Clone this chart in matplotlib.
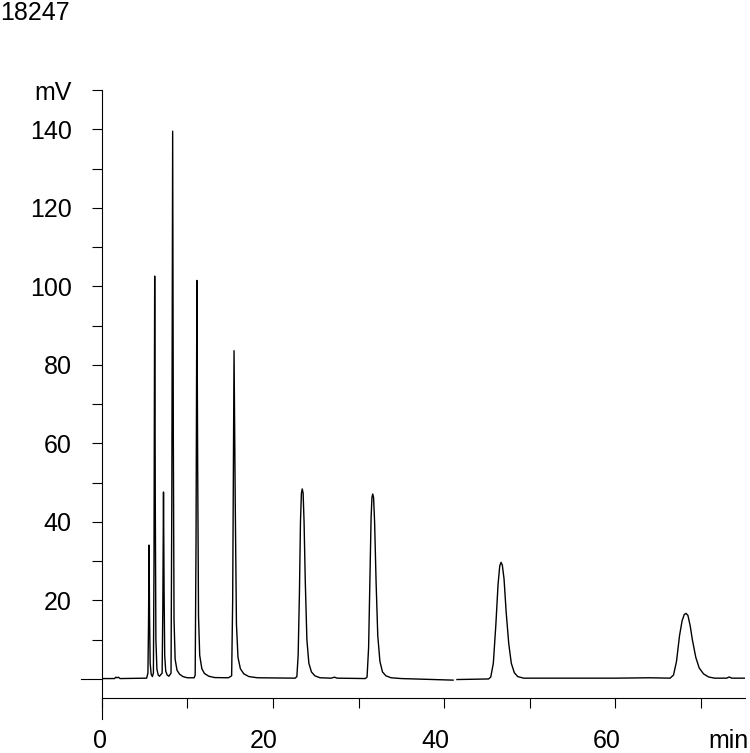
import numpy as np
import matplotlib
matplotlib.use("Agg")
import matplotlib.pyplot as plt

# -----------------------------
# 1. Chromatogram trace
# -----------------------------
# retention time (min) and detector signal (mV); nan marks the break in the trace
time_min = [
    0.0, 1.5, 1.65, 1.8, 1.95, 2.15, 5.25,
    5.40, 5.47, 5.53, 5.59, 5.66, 5.78, 5.92,
    6.04, 6.11, 6.19, 6.26, 6.33, 6.45, 6.60, 6.75,
    7.06, 7.14, 7.22, 7.29, 7.36, 7.48, 7.65, 7.85,
    8.10, 8.19, 8.29, 8.37, 8.45, 8.58, 8.80, 9.10, 9.50, 10.0, 10.8,
    10.92, 11.02, 11.12, 11.21, 11.31, 11.45, 11.7, 12.0, 12.5, 13.2, 14.8,
    15.18, 15.30, 15.46, 15.60, 15.74, 15.92, 16.2, 16.6, 17.2, 18.2, 22.6,
    22.80, 22.95, 23.10, 23.22, 23.33, 23.43, 23.53, 23.64, 23.78, 23.97, 24.2, 24.5, 24.9, 25.5,
    26.8, 27.2, 27.5, 30.8,
    31.0, 31.18, 31.35, 31.47, 31.57, 31.66, 31.76, 31.88, 32.05, 32.25, 32.5, 32.8, 33.2, 33.8,
    35.0, 41.05, 41.3, 41.5, 45.2,
    45.45, 45.75, 46.05, 46.3, 46.5, 46.65, 46.8, 47.0, 47.25, 47.55, 47.85, 48.2, 48.6, 49.3,
    60.0, 64.0, 66.4,
    66.8, 67.15, 67.5, 67.8, 68.05, 68.26, 68.48, 68.75, 69.0, 69.4, 69.8, 70.3, 70.9, 71.6,
    73.0, 73.3, 73.6, 75.1,
]
signal_mv = [
    0.1, 0.1, 0.45, 0.3, 0.45, 0.1, 0.2,
    1.5, 14, 34.1, 16, 4, 1.2, 0.6,
    1.5, 30, 102.6, 45, 10, 2.5, 1.0, 0.7,
    1.5, 18, 47.6, 22, 6, 2, 1.0, 0.7,
    1.5, 45, 139.5, 60, 15, 5, 2.2, 1.2, 0.6, 0.3, 0.3,
    1.0, 35, 101.5, 55, 16, 6, 2.6, 1.4, 0.7, 0.35, 0.3,
    0.8, 20, 83.6, 45, 14, 5.5, 2.6, 1.3, 0.6, 0.3, 0.2,
    0.6, 6, 22, 40, 47.3, 48.4, 47.3, 40, 25, 10, 4, 1.8, 0.8, 0.3,
    0.2, 0.45, 0.2, 0.1,
    0.5, 8, 28, 41, 46.2, 47.1, 46.2, 40, 25, 11, 4.5, 1.8, 0.8, 0.3,
    0.1, -0.3, np.nan, -0.15, 0.0,
    0.5, 4, 14, 24, 28.8, 29.7, 29.0, 25.5, 17, 9, 4, 1.6, 0.6, 0.2,
    0.2, 0.3, 0.2,
    1.0, 4.5, 11, 14.8, 16.4, 16.7, 16.2, 13.5, 10, 5.5, 2.8, 1.3, 0.5, 0.2,
    0.2, 0.5, 0.2, 0.2,
]

x_ticks = [0, 10, 20, 30, 40, 50, 60, 70]
x_labels = [0, 20, 40, 60]
y_major = [20, 40, 60, 80, 100, 120, 140]
y_minor = [10, 30, 50, 70, 90, 110, 130]

run_id = "18247"

# -----------------------------
# 2. Figure / axes
# -----------------------------
plt.rcParams['font.family'] = ['Liberation Sans', 'DejaVu Sans']
fig = plt.figure(figsize=(7.5, 7.53), dpi=100)
W, H = 750, 753
x0, x1 = 101.7, 745.0     # px of 0 min and end of axis
ytop, ybot = 90.0, 719.0   # px of 150 mV and bottom of y axis
ax = fig.add_axes([x0 / W, (H - ybot) / H, (x1 - x0) / W, (ybot - ytop) / H])
ax.set_xlim(0, 75.15)
ax.set_ylim(-10.2, 150)
ax.patch.set_alpha(0)

ax.plot(time_min, signal_mv, color='black', lw=1.0)

# spines
for s in ['top', 'right']:
    ax.spines[s].set_visible(False)
ax.spines['left'].set_position(('data', 0))
ax.spines['bottom'].set_position(('data', -4.8))
ax.spines['left'].set_linewidth(0.8)
ax.spines['bottom'].set_linewidth(0.8)

# y ticks
ax.set_yticks(y_major + [150])
ax.set_yticklabels([str(v) for v in y_major] + ['mV'], fontsize=18)
ax.set_yticks(y_minor, minor=True)
ax.tick_params(axis='y', which='both', direction='out', length=7.2, width=0.8, pad=14.4)
ax.yaxis.get_major_ticks()[-1].tick1line.set_color('#888888')
# longer zero mark
ax.plot([-21 / 8.56, 0], [0, 0], color='black', lw=0.8, clip_on=False)

# x ticks (labels drawn separately, right-aligned just past the tick)
ax.set_xticks(x_ticks)
ax.set_xticklabels([])
ax.tick_params(axis='x', direction='out', length=7.2, width=0.8)
for v in x_labels:
    fig.text((x0 + v * 8.56 + 5) / W, 5 / H, str(v), ha='right', va='baseline', fontsize=18)
fig.text(749 / W, 5 / H, "min", ha='right', va='baseline', fontsize=18)

fig.text(0 / W, (H - 20.5) / H, run_id, ha='left', va='baseline', fontsize=18)

fig.savefig("out.png", dpi=100)
